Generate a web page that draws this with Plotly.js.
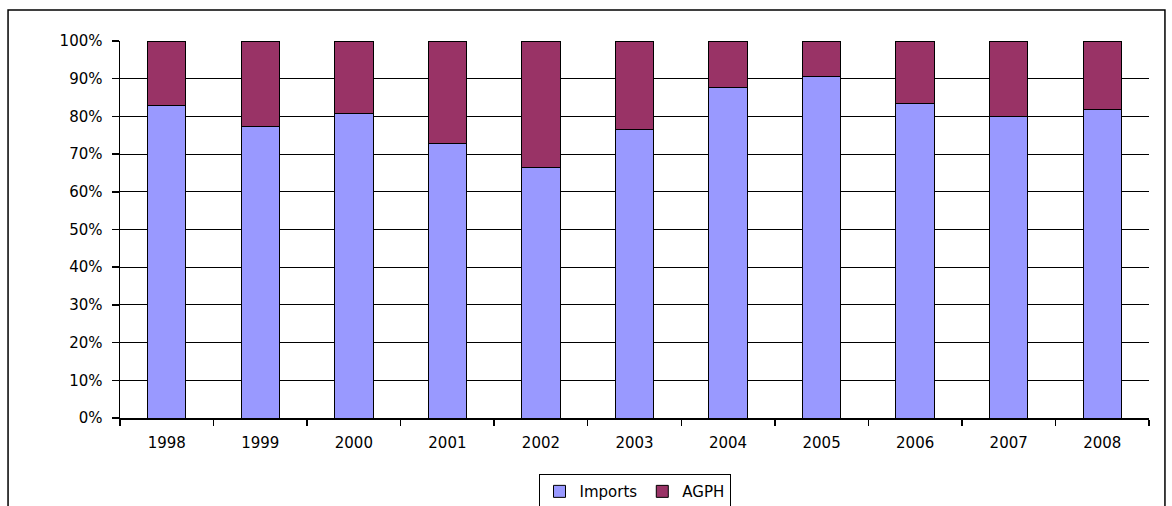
<!DOCTYPE html>
<html>
<head>
<meta charset="utf-8">
<script src="https://cdn.plot.ly/plotly-3.0.1.min.js"></script>
<style>html,body{margin:0;padding:0;background:#fff;}#chart{width:1172px;height:506px;}</style>
</head>
<body>
<div id="chart"></div>
<script>
const years = ['1998','1999','2000','2001','2002','2003','2004','2005','2006','2007','2008'];
const importsShare = [82.9, 77.4, 80.9, 72.9, 66.5, 76.5, 87.7, 90.5, 83.3, 80.1, 81.7];
const agphShare = [17.1, 22.6, 19.1, 27.1, 33.5, 23.5, 12.3, 9.5, 16.7, 19.9, 18.3];
const yTickVals = [0,10,20,30,40,50,60,70,80,90,100];
const yTickText = ['0%','10%','20%','30%','40%','50%','60%','70%','80%','90%','100%'];

const font = {family: '"DejaVu Sans", Verdana, sans-serif', size: 15, color: '#000'};

const traces = [
  {type: 'bar', name: 'Imports', x: years, y: importsShare,
   marker: {color: '#9999FF', line: {color: '#000', width: 1}}, hoverinfo: 'x+y'},
  {type: 'bar', name: 'AGPH', x: years, y: agphShare,
   marker: {color: '#993366', line: {color: '#000', width: 1}}, hoverinfo: 'x+y'}
];

const layout = {
  width: 1172, height: 506,
  margin: {l: 120, r: 23, t: 41, b: 88},
  paper_bgcolor: '#fff', plot_bgcolor: '#fff',
  font: font,
  barmode: 'stack',
  bargap: 0.59,
  showlegend: true,
  legend: {orientation: 'h', traceorder: 'normal', x: 0.5, xanchor: 'center',
           yref: 'container', y: 0.063, yanchor: 'top',
           bordercolor: '#000', borderwidth: 1, bgcolor: '#fff',
           font: font, itemwidth: 30, tracegroupgap: 0},
  xaxis: {type: 'category', tickson: 'boundaries', ticks: 'outside', ticklen: 6,
          tickcolor: '#000', tickwidth: 1.5, showline: true, linecolor: '#000', linewidth: 1.5,
          showgrid: false, zeroline: false, tickfont: font, fixedrange: true,
          ticklabelstandoff: 10, automargin: false},
  yaxis: {range: [0, 100], tickvals: yTickVals, ticktext: yTickText, ticks: 'outside',
          ticklen: 7, tickcolor: '#000', tickwidth: 1.5, showline: true, linecolor: '#000',
          linewidth: 1.5, showgrid: true, gridcolor: '#000', gridwidth: 1, zeroline: false,
          tickfont: font, fixedrange: true, ticklabelstandoff: 6, automargin: false},
  shapes: [
    {type: 'rect', xref: 'paper', yref: 'paper', x0: -0.1088, x1: 1.0155, y0: -0.35, y1: 1.0822,
     line: {color: '#000', width: 1.5}, fillcolor: 'rgba(0,0,0,0)', layer: 'below'}
  ]
};

Plotly.newPlot('chart', traces, layout, {displayModeBar: false, staticPlot: true});
</script>
</body>
</html>
